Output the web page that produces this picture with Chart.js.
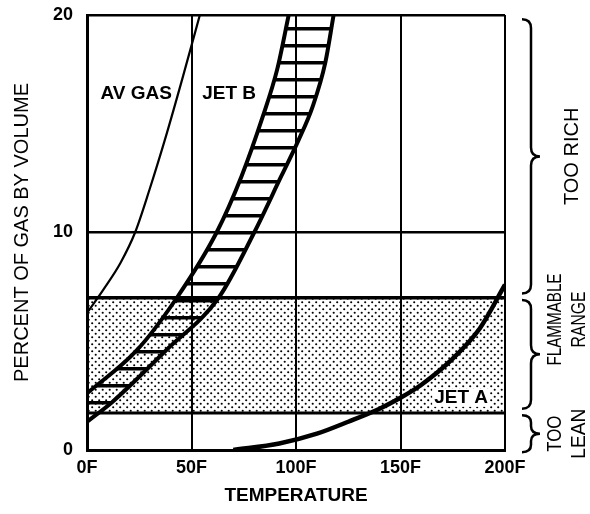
<!DOCTYPE html>
<html>
<head>
<meta charset="utf-8">
<script src="https://cdn.jsdelivr.net/npm/chart.js@4.4.1/dist/chart.umd.min.js"></script>
<style>
  html, body { margin: 0; padding: 0; background: #fff; }
  #wrap { width: 590px; height: 514px; }
</style>
</head>
<body>
<div id="wrap"><canvas id="chart"></canvas></div>
<script>
// Values (temperature in F, percent of gas by volume)
const xTicks = [0, 50, 100, 150, 200];
const yTicks = [0, 10, 20];

const avGasTemp = [0, 8, 16, 23, 30, 38, 46, 54];
const avGasPct  = [6.3, 7.4, 8.6, 10, 12, 14.5, 17.2, 20];

// JET B is a band between two curves; the rich edge runs on past the top of the chart
const jetBRichTemp = [0, 24, 43, 62, 74, 84, 91, 96.5, 118];
const jetBRichPct  = [2.6, 4.6, 7, 10, 12.6, 15.3, 17.5, 20, 30];
const jetBLeanTemp = [0, 12, 38, 63, 80, 93, 101, 108, 114, 118];
const jetBLeanPct  = [1.3, 2.2, 4.6, 7, 10, 12.6, 14.2, 15.8, 17.8, 20];

const jetATemp = [70, 92, 110, 125, 140, 150, 160, 175, 188, 200];
const jetAPct  = [0, 0.3, 0.75, 1.3, 1.9, 2.4, 3.0, 4.2, 5.6, 7.6];

const flammableLow = 1.7;
const flammableHigh = 7;

const rangeNames  = [['TOO RICH'], ['FLAMMABLE', 'RANGE'], ['TOO', 'LEAN']];
const rangeBounds = [[7.2, 19.8], [1.9, 6.9], [-0.1, 1.6]];
const rangeNameAt = [13.5, 6.0, 0.75];

const curveNames = ['AV GAS', 'JET B', 'JET A'];
const curveNameAt = [[23.5, 16.4], [68, 16.4], [179, 2.4]];

const pts = (xs, ys) => xs.map((x, i) => ({ x: x, y: ys[i] }));

// dotted texture for the flammable range
function dotPattern() {
  const c = document.createElement('canvas');
  c.width = 7; c.height = 7;
  const g = c.getContext('2d');
  g.fillStyle = '#000';
  g.beginPath(); g.arc(1.2, 1.2, 1.05, 0, Math.PI * 2); g.fill();
  g.beginPath(); g.arc(4.7, 4.7, 1.05, 0, Math.PI * 2); g.fill();
  return g.createPattern(c, 'repeat');
}

// horizontal hatching for the JET B band
function hatchPattern() {
  const c = document.createElement('canvas');
  c.width = 4; c.height = 17;
  const g = c.getContext('2d');
  g.fillStyle = '#000';
  g.fillRect(0, 10, 4, 3.5);
  return g.createPattern(c, 'repeat');
}

function brace(ctx, x, y1, y2, w) {
  const m = (y1 + y2) / 2;
  const r = Math.min(9, (y2 - y1) / 5);
  const cx = x + w / 2;
  ctx.beginPath();
  ctx.moveTo(x, y1);
  ctx.quadraticCurveTo(cx, y1, cx, y1 + r);
  ctx.lineTo(cx, m - r);
  ctx.quadraticCurveTo(cx, m, x + w, m);
  ctx.quadraticCurveTo(cx, m, cx, m + r);
  ctx.lineTo(cx, y2 - r);
  ctx.quadraticCurveTo(cx, y2, x, y2);
  ctx.stroke();
}

const labelsPlugin = {
  id: 'labels',
  afterDraw(chart) {
    const ctx = chart.ctx;
    const xs = chart.scales.x, ys = chart.scales.y;
    const area = chart.chartArea;
    ctx.save();
    ctx.fillStyle = '#000';
    ctx.strokeStyle = '#000';
    ctx.textAlign = 'center';
    ctx.textBaseline = 'middle';

    // names written on the curves
    ctx.font = 'bold 19px "Liberation Sans", Arial, sans-serif';
    curveNames.forEach((name, i) => {
      const px = xs.getPixelForValue(curveNameAt[i][0]);
      const py = ys.getPixelForValue(curveNameAt[i][1]);
      if (name === 'JET A') {
        const w = ctx.measureText(name).width;
        ctx.fillStyle = '#fff';
        ctx.fillRect(px - w / 2 - 2, py - 9, w + 4, 18);
        ctx.fillStyle = '#000';
      }
      ctx.fillText(name, px, py);
    });

    // braces and range names on the right
    ctx.lineWidth = 2.5;
    ctx.font = '20px "Liberation Sans", Arial, sans-serif';
    const maxW = { 'TOO RICH': 108, 'FLAMMABLE': 92, 'RANGE': 56, 'TOO': 36, 'LEAN': 50 };
    rangeBounds.forEach((b, i) => {
      const yTop = ys.getPixelForValue(b[1]);
      const yBot = ys.getPixelForValue(b[0]);
      brace(ctx, area.right + 17, yTop, yBot, 18);
      const lines = rangeNames[i];
      const mid = ys.getPixelForValue(rangeNameAt[i]);
      lines.forEach((t, j) => {
        const cx = lines.length === 1 ? area.right + 67 : area.right + 50 + j * 24;
        ctx.save();
        ctx.translate(cx, mid);
        ctx.rotate(-Math.PI / 2);
        ctx.fillText(t, 0, 0, maxW[t]);
        ctx.restore();
      });
    });
    ctx.restore();
  }
};

const black = '#000';
const lineDefaults = { pointRadius: 0, borderColor: black, fill: false, cubicInterpolationMode: 'monotone' };

new Chart(document.getElementById('chart'), {
  type: 'line',
  data: {
    datasets: [
      { ...lineDefaults, label: 'lean limit', data: pts([0, 200], [flammableLow, flammableLow]), borderWidth: 3 },
      { ...lineDefaults, label: 'rich limit', data: pts([0, 200], [flammableHigh, flammableHigh]), borderWidth: 3.5,
        fill: '-1', backgroundColor: dotPattern() },
      { ...lineDefaults, label: 'JET B rich', data: pts(jetBRichTemp, jetBRichPct), borderWidth: 4 },
      { ...lineDefaults, label: 'JET B lean', data: pts(jetBLeanTemp, jetBLeanPct), borderWidth: 4,
        fill: '-1', backgroundColor: hatchPattern() },
      { ...lineDefaults, label: 'AV GAS', data: pts(avGasTemp, avGasPct), borderWidth: 2.2 },
      { ...lineDefaults, label: 'JET A', data: pts(jetATemp, jetAPct), borderWidth: 4.5 }
    ]
  },
  options: {
    responsive: true,
    maintainAspectRatio: false,
    animation: false,
    layout: { padding: { top: 15, right: 85, left: 0, bottom: 0 } },
    plugins: { legend: { display: false }, tooltip: { enabled: false } },
    scales: {
      x: {
        type: 'linear', min: 0, max: 200,
        afterBuildTicks: s => { s.ticks = xTicks.map(v => ({ value: v })); },
        afterFit: s => { s.height = 64; s.paddingLeft = 0; s.paddingRight = 0; },
        grid: { color: black, lineWidth: 2, drawTicks: false },
        border: { color: black, width: 3 },
        ticks: { color: black, padding: 7, callback: v => v + 'F',
                 font: { family: '"Liberation Sans", Arial, sans-serif', size: 18, weight: 'bold' } },
        title: { display: true, text: 'TEMPERATURE', color: black, padding: { top: 0, bottom: 7 },
                 font: { family: '"Liberation Sans", Arial, sans-serif', size: 19, weight: 'bold' } }
      },
      y: {
        min: 0, max: 20,
        afterBuildTicks: s => { s.ticks = yTicks.map(v => ({ value: v })); },
        afterFit: s => { s.width = 87; s.paddingTop = 0; s.paddingBottom = 0; },
        grid: { color: black, lineWidth: 2.5, drawTicks: false },
        border: { color: black, width: 3 },
        ticks: { color: black, padding: 14,
                 font: { family: '"Liberation Sans", Arial, sans-serif', size: 18, weight: 'bold' } },
        title: { display: true, text: 'PERCENT OF GAS BY VOLUME', color: black, padding: { top: 10, bottom: 0 },
                 font: { family: '"Liberation Sans", Arial, sans-serif', size: 20 } }
      }
    }
  },
  plugins: [labelsPlugin]
});
</script>
</body>
</html>
